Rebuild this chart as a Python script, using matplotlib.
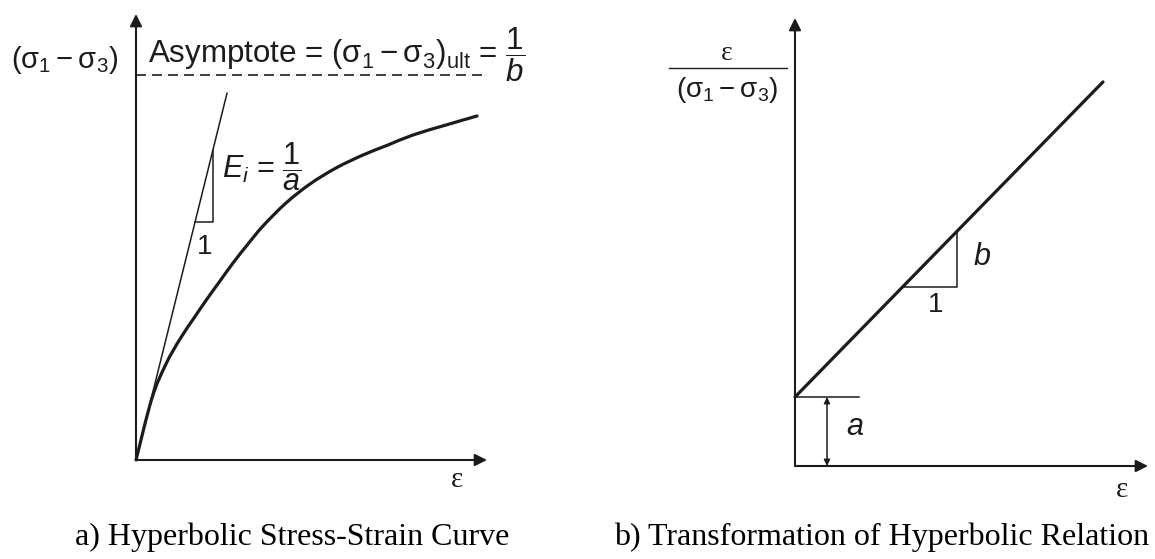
import numpy as np
import matplotlib
matplotlib.use("Agg")
import matplotlib.pyplot as plt
from matplotlib.path import Path
from matplotlib.patches import PathPatch

plt.rcParams['font.family'] = ['Liberation Sans', 'DejaVu Sans']
plt.rcParams['mathtext.fontset'] = 'custom'
plt.rcParams['mathtext.rm'] = 'Liberation Sans'
plt.rcParams['mathtext.it'] = 'Liberation Sans:italic'
plt.rcParams['mathtext.default'] = 'rm'

ink = '#1c1c1c'

# a) stress-strain curve (strain, deviator stress), arbitrary units
strain = [0, 0.16, 0.30, 0.44, 0.58, 0.71, 0.84, 0.97, 1.12, 1.27,
          1.50, 1.74, 2.00, 2.27, 2.52, 2.77, 3.10, 3.41]
stress = [0, 0.62, 0.96, 1.21, 1.42, 1.61, 1.79, 1.97, 2.16, 2.34,
          2.57, 2.76, 2.92, 3.05, 3.15, 3.25, 3.35, 3.44]
asymptote = 3.85          # (s1 - s3)_ult = 1/b
Ei = 4.03                 # initial tangent modulus = 1/a
tangent_end = 0.91
tri_a = [0.59, 0.77]      # run of the slope triangle

# b) transformed relation eps/(s1 - s3) = a + b*eps
a_int = 0.69
b_slope = 1.023
eps_b = [0, 3.08]
tri_b = [1.08, 1.62]


def smooth_path(xs, ys):
    # catmull-rom through the points, drawn as cubic bezier segments
    p = np.column_stack([xs, ys]).astype(float)
    p = np.vstack([p[0], p, p[-1]])
    verts = [p[1]]
    codes = [Path.MOVETO]
    for i in range(1, len(p) - 2):
        c1 = p[i] + (p[i + 1] - p[i - 1]) / 6
        c2 = p[i + 1] - (p[i + 2] - p[i]) / 6
        verts += [c1, c2, p[i + 1]]
        codes += [Path.CURVE4] * 3
    return Path(verts, codes)


fig = plt.figure(figsize=(11.55, 5.59), dpi=100)

# ---- left panel
ax = fig.add_axes([0, 0, 0.5, 1])
ax.set_xlim(-1.36, 4.415)
ax.set_ylim(-0.99, 4.60)
ax.axis('off')

arrow = dict(arrowstyle='-|>', lw=1.5, color=ink, mutation_scale=18, shrinkA=0, shrinkB=0)
ax.annotate('', xy=(0, 4.46), xytext=(0, 0), arrowprops=arrow)
ax.annotate('', xy=(3.51, 0), xytext=(0, 0), arrowprops=arrow)

ax.plot([0, 3.46], [asymptote, asymptote], color=ink, lw=1.2, ls=(0, (6, 3.6)))
ax.add_patch(PathPatch(smooth_path(strain, stress), fill=False, edgecolor=ink, lw=2.3,
                       capstyle='round'))
x_t = np.array([0, tangent_end])
ax.plot(x_t, Ei * x_t, color=ink, lw=1.1)
ax.plot([tri_a[0], tri_a[1], tri_a[1]], [Ei * tri_a[0], Ei * tri_a[0], Ei * tri_a[1]],
        color=ink, lw=1.1)

ax.text(-0.71, 4.00, r'$(\sigma_1 - \sigma_3)$', ha='center', va='center', fontsize=21, color=ink)
ax.text(0.12, 3.97, r'Asymptote = $(\sigma_1 - \sigma_3)_{\mathrm{ult}}$ = $\dfrac{1}{\mathit{b}}$',
        ha='left', va='baseline', fontsize=22.5, color=ink)
ax.text(0.86, 2.93, r'$\mathit{E_i}$ = $\dfrac{1}{\mathit{a}}$', ha='left', va='center',
        fontsize=22, color=ink)
ax.text(0.69, 2.13, '1', ha='center', va='center', fontsize=20, color=ink)
ax.text(3.21, -0.20, 'ε', ha='center', va='center', fontsize=21, color=ink,
        family='Liberation Serif')

# ---- right panel
bx = fig.add_axes([0.5, 0, 0.5, 1])
bx.set_xlim(-2.175, 3.60)
bx.set_ylim(-0.93, 4.66)
bx.axis('off')

bx.annotate('', xy=(0, 4.48), xytext=(0, 0), arrowprops=arrow)
bx.annotate('', xy=(3.53, 0), xytext=(0, 0), arrowprops=arrow)

x_b = np.array(eps_b)
bx.plot(x_b, a_int + b_slope * x_b, color=ink, lw=2.3, solid_capstyle='round')
bx.plot([0, 0.64], [a_int, a_int], color=ink, lw=1.1)
bx.annotate('', xy=(0.32, a_int), xytext=(0.32, 0),
            arrowprops=dict(arrowstyle='<|-|>', lw=1.1, color=ink, mutation_scale=9,
                            shrinkA=0, shrinkB=0))
yb = a_int + b_slope * np.array(tri_b)
bx.plot([tri_b[0], tri_b[1], tri_b[1]], [yb[0], yb[0], yb[1]], color=ink, lw=1.1)

bx.text(0.60, 0.39, r'$\mathit{a}$', ha='center', va='center', fontsize=22, color=ink)
bx.text(1.87, 2.09, r'$\mathit{b}$', ha='center', va='center', fontsize=22, color=ink)
bx.text(1.41, 1.61, '1', ha='center', va='center', fontsize=20, color=ink)
bx.text(3.27, -0.24, 'ε', ha='center', va='center', fontsize=21, color=ink,
        family='Liberation Serif')

bx.text(-0.68, 4.13, 'ε', ha='center', va='center', fontsize=20, color=ink,
        family='Liberation Serif')
bx.plot([-1.26, -0.08], [3.98, 3.98], color=ink, lw=1.0, clip_on=False)
bx.text(-0.68, 3.76, r'$(\sigma_1 - \sigma_3)$', ha='center', va='center', fontsize=20, color=ink)

# captions
fig.text(292 / 1155, 1 - 545 / 559, 'a) Hyperbolic Stress-Strain Curve', ha='center',
         va='baseline', fontsize=23, family='Liberation Serif', color='black')
fig.text(882 / 1155, 1 - 545 / 559, 'b) Transformation of Hyperbolic Relation', ha='center',
         va='baseline', fontsize=23, family='Liberation Serif', color='black')

fig.savefig('out.png', dpi=100, facecolor='white')
